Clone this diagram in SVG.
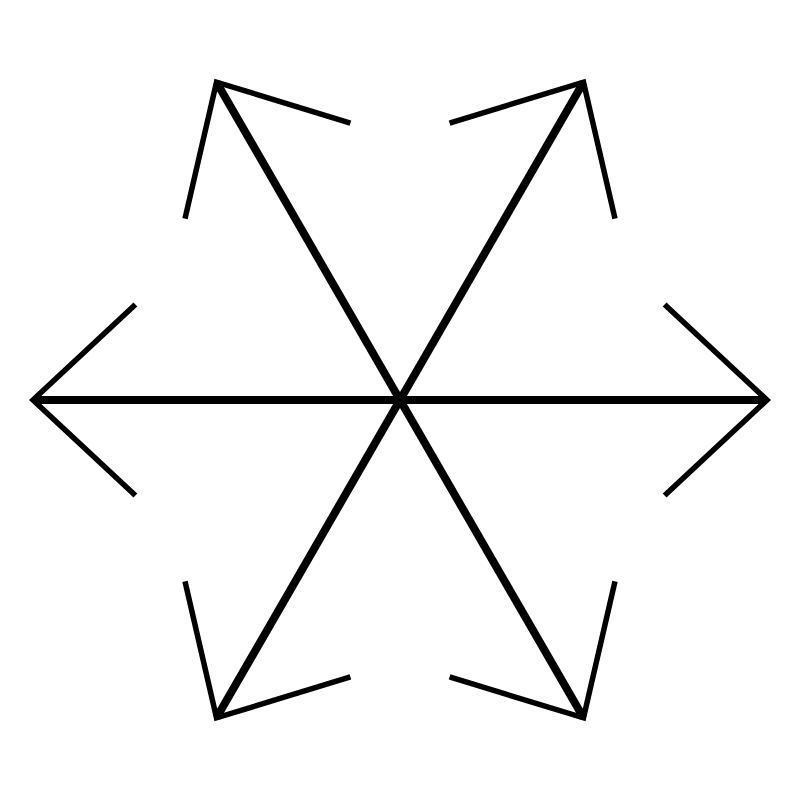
<svg xmlns="http://www.w3.org/2000/svg" width="800" height="800" viewBox="0 0 800 800">
<style>
.shaft{stroke:#000;stroke-width:8;fill:none;stroke-linecap:butt}
.barb{stroke:#000;stroke-width:5.5;fill:none;stroke-linecap:butt;stroke-linejoin:miter}
</style>
<defs>
<g id="arrow">
<line class="shaft" x1="400" y1="400" x2="767" y2="400"/>
<polyline class="barb" points="664.6,304.5 767,400 664.6,495.5"/>
</g>
</defs>
<rect width="800" height="800" fill="#fff"/>
<g id="connectors">
<use href="#arrow"/>
<use href="#arrow" transform="rotate(-60 400 400)"/>
<use href="#arrow" transform="rotate(-120 400 400)"/>
<use href="#arrow" transform="rotate(180 400 400)"/>
<use href="#arrow" transform="rotate(120 400 400)"/>
<use href="#arrow" transform="rotate(60 400 400)"/>
</g>
</svg>
